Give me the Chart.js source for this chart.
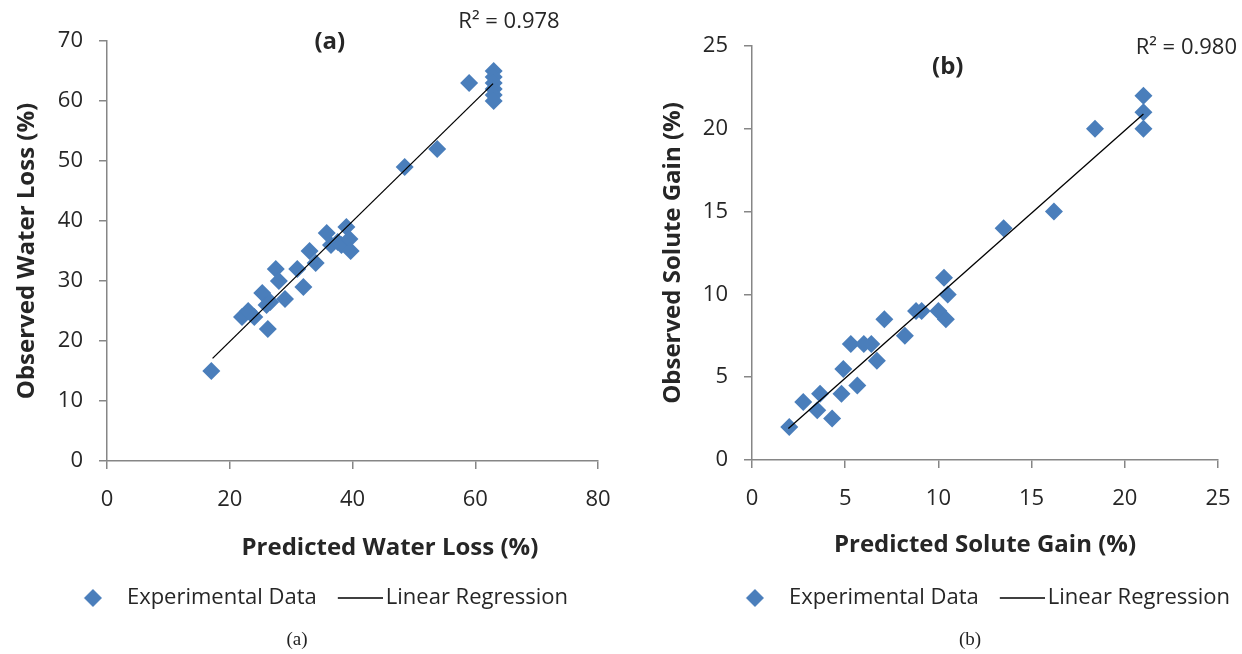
<!DOCTYPE html>
<html>
<head>
<meta charset="utf-8">
<script src="https://cdn.jsdelivr.net/npm/chart.js@4.4.1/dist/chart.umd.min.js"></script>
<style>
  body { margin:0; background:#fff; width:1242px; height:654px; position:relative; overflow:hidden; }
  canvas { position:absolute; top:0; }
  #chart-a { left:0; }
  #chart-b { left:621px; }
  .cap { position:absolute; top:628px; font:19px "Liberation Serif", serif; color:#222; transform:translateX(-50%); }
</style>
</head>
<body>
<canvas id="chart-a" width="621" height="654"></canvas>
<canvas id="chart-b" width="644" height="654"></canvas>
<div class="cap" style="left:297px">(a)</div>
<div class="cap" style="left:970px">(b)</div>
<script>
// ── Data ─────────────────────────────────────────────────────
// (a) water loss: predicted vs observed
const wlPred = [17, 22, 23, 24, 25.3, 26, 26.6, 26.2, 27.5, 28, 29, 31, 32, 33, 34, 35.8, 36.5, 37.6, 38.2, 39, 39.5, 39.7, 48.5, 53.8, 59, 63, 63, 63, 63, 63, 63];
const wlObs  = [15, 24, 25, 24, 28, 26, 26.5, 22, 32, 30, 27, 32, 29, 35, 33, 38, 36, 36.5, 36, 39, 37, 35, 49, 52, 63, 65, 64, 63, 62, 61, 60];
const wlFitX = [17.2, 62.9];
const wlFitY = [17.1, 62.9];

// (b) solute gain: predicted vs observed
const sgPred = [2, 2.75, 3.5, 3.65, 4.3, 4.8, 4.9, 5.3, 5.65, 6, 6.4, 6.7, 7.1, 8.2, 8.8, 9.1, 10, 10.4, 10.3, 10.5, 13.5, 16.2, 18.4, 21, 21, 21];
const sgObs  = [2, 3.5, 3, 4, 2.5, 4, 5.5, 7, 4.5, 7, 7, 6, 8.5, 7.5, 9, 9, 9, 8.5, 11, 10, 14, 15, 20, 22, 21, 20];
const sgFitX = [1.95, 21];
const sgFitY = [1.9, 20.9];

const seriesNames = ['Experimental Data', 'Linear Regression'];

// ── Style ────────────────────────────────────────────────────
const FONT = '"Open Sans", sans-serif';
const C = { blue:'#4a7ebb', axis:'#868686', ink:'#262626', line:'#000' };

// legend glyphs (diamond / long line), centred on the legend box
function glyph(kind) {
  const c = document.createElement('canvas');
  c.width = 62; c.height = 20;
  const g = c.getContext('2d');
  if (kind === 'diamond') {
    g.fillStyle = C.blue;
    g.beginPath(); g.moveTo(31, 1); g.lineTo(40, 10); g.lineTo(31, 19); g.lineTo(22, 10); g.closePath(); g.fill();
  } else {
    g.strokeStyle = C.line; g.lineWidth = 1.3;
    g.beginPath(); g.moveTo(17, 10); g.lineTo(62, 10); g.stroke();
  }
  return c;
}
const glyphs = [glyph('diamond'), glyph('line')];

const notes = {
  id: 'notes',
  afterDraw(chart, args, opts) {
    const { ctx, scales:{ x, y } } = chart;
    ctx.save();
    ctx.fillStyle = C.ink;
    ctx.textAlign = 'center';
    ctx.textBaseline = 'middle';
    for (const n of opts.items || []) {
      ctx.font = n.font;
      ctx.fillText(n.text, x.getPixelForValue(n.x), y.getPixelForValue(n.y));
    }
    ctx.restore();
  }
};

const pts = (xs, ys) => xs.map((v, i) => ({ x:v, y:ys[i] }));

function makeChart(id, o) {
  const scales = {
    x:{ type:'linear', min:0, max:o.xMax,
      ticks:{ stepSize:o.xStep, padding:3, color:C.ink, font:{ family:FONT, size:22, lineHeight:2.55 } },
      grid:{ drawOnChartArea:false, tickLength:8, color:C.axis, lineWidth:1.5 },
      border:{ color:C.axis, width:1.5 },
      title:{ display:true, text:o.xTitle, color:C.ink, font:{ family:FONT, size:24, weight:'bold' },
        padding:{ top:0, bottom:o.xTitlePad } },
      afterFit:s => { s.height = o.xH; } },
    y:{ type:'linear', min:0, max:o.yMax,
      ticks:{ stepSize:o.yStep, padding:16, color:C.ink, font:{ family:FONT, size:22 } },
      grid:{ drawOnChartArea:false, tickLength:8, color:C.axis, lineWidth:1.5 },
      border:{ color:C.axis, width:1.5 },
      title:{ display:true, text:o.yTitle, color:C.ink, font:{ family:FONT, size:24, weight:'bold' },
        padding:{ top:o.yTitlePad, bottom:0 } },
      afterFit:s => { s.width = o.yW; } },
  };
  if (o.spacerR) {
    // empty right-hand axis: keeps the plot narrow while the legend uses the full width
    scales.spacer = { axis:'y', position:'right', min:0, max:1,
      ticks:{ display:false }, grid:{ display:false }, border:{ display:false },
      afterFit:s => { s.width = o.spacerR; } };
  }
  return new Chart(document.getElementById(id), {
    type: 'scatter',
    data: { datasets: [
      { label:seriesNames[0], data:pts(o.px, o.py), order:1,
        pointStyle:'rectRot', pointRadius:9, pointHoverRadius:9, backgroundColor:C.blue, borderWidth:0 },
      { label:seriesNames[1], data:pts(o.fx, o.fy), order:0, showLine:true,
        pointRadius:0, pointHoverRadius:0, borderColor:C.line, borderWidth:1.3, fill:false },
    ]},
    options: {
      responsive:false, animation:false,
      layout:{ padding:o.pad },
      plugins:{
        tooltip:{ enabled:false },
        legend:{ position:'bottom',
          labels:{ usePointStyle:true, pointStyleWidth:46, padding:12, color:C.ink, font:{ family:FONT, size:22 },
            sort:(a, b) => a.datasetIndex - b.datasetIndex,
            generateLabels(chart) {
              const items = Chart.defaults.plugins.legend.labels.generateLabels(chart);
              items.forEach(it => { it.pointStyle = glyphs[it.datasetIndex]; });
              return items;
            } } },
        notes:{ items:o.notes },
      },
      scales,
    },
    plugins:[notes],
  });
}

makeChart('chart-a', {
  px:wlPred, py:wlObs, fx:wlFitX, fy:wlFitY,
  xMax:80, xStep:20, yMax:70, yStep:10,
  xTitle:'            Predicted Water Loss (%)', yTitle:'Observed Water Loss (%)',
  pad:{ left:40, right:23, top:41, bottom:35 },
  yW:67, yTitlePad:-27.4, xH:114, xTitlePad:12.6,
  notes:[
    { text:'(a)', x:36.3, y:69.8, font:'bold 24px ' + FONT },
    { text:'R² = 0.978', x:65.5, y:73.2, font:'22px ' + FONT },
  ],
});

makeChart('chart-b', {
  px:sgPred, py:sgObs, fx:sgFitX, fy:sgFitY,
  xMax:25, xStep:5, yMax:25, yStep:5,
  xTitle:'Predicted Solute Gain (%)', yTitle:'Observed Solute Gain (%)',
  pad:{ left:76, right:0, top:46, bottom:35 }, spacerR:47,
  yW:55, yTitlePad:-38.4, xH:115, xTitlePad:15.6,
  notes:[
    { text:'(b)', x:10.5, y:23.7, font:'bold 24px ' + FONT },
    { text:'R² = 0.980', x:23.3, y:24.9, font:'22px ' + FONT },
  ],
});
</script>
</body>
</html>
